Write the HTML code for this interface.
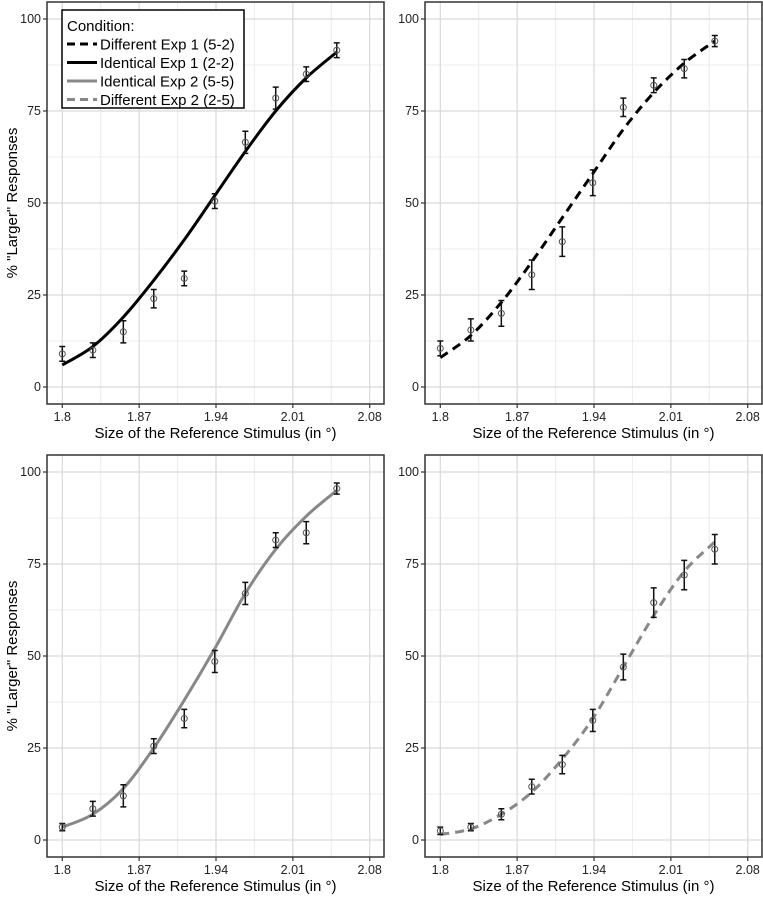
<!DOCTYPE html>
<html><head><meta charset="utf-8">
<style>
body{margin:0;background:#fff;}
svg{display:block;font-family:"Liberation Sans",Arial,sans-serif;}
</style></head>
<body>
<svg id="chart" width="763" height="897" viewBox="0 0 763 897"></svg>
<script>
const stimuli = [1.8,1.8278,1.8556,1.8833,1.9111,1.9389,1.9667,1.9944,2.0222,2.05];
const xTicks = [1.8,1.87,1.94,2.01,2.08];
const xTickLabels = ["1.8","1.87","1.94","2.01","2.08"];
const yTicks = [0,25,50,75,100];
const pointsTL = [9,10,15,24,29.5,50.5,66.5,78.5,85,91.5];
const errTL = [2,2,3,2.5,2,2,3,3,2,2];
const curveTL = [6,11,19,29,40,52,64,75,84,91];
const pointsTR = [10.5,15.5,20,30.5,39.5,55.5,76,82,86.5,94];
const errTR = [2,3,3.5,4,4,3.5,2.5,2,2.5,1.5];
const curveTR = [8,14,23,34,46,58,70,80,88,94];
const pointsBL = [3.5,8.5,12,25.5,33,48.5,67,81.5,83.5,95.5];
const errBL = [1,2,3,2,2.5,3,3,2,3,1.5];
const curveBL = [3.5,7,14,25,38,52,67,79,88,95];
const pointsBR = [2.5,3.5,7,14.5,20.5,32.5,47,64.5,72,79];
const errBR = [1,1,1.5,2,2.5,3,3.5,4,4,4];
const curveBR = [1.5,3,7,13,22,33,47,61,73,81];

const NS="http://www.w3.org/2000/svg";
const svg=document.getElementById('chart');
function mk(tag,attrs,parent){const e=document.createElementNS(NS,tag);for(const k in attrs)e.setAttribute(k,attrs[k]);(parent||svg).appendChild(e);return e;}

const panels=[
 {name:'top-left',L:47,T:2,pts:pointsTL,err:errTL,cur:curveTL,color:'#000',dash:null,ylab:true},
 {name:'top-right',L:425,T:2,pts:pointsTR,err:errTR,cur:curveTR,color:'#000',dash:'9,6',ylab:false},
 {name:'bottom-left',L:47,T:455,pts:pointsBL,err:errBL,cur:curveBL,color:'#888',dash:null,ylab:true},
 {name:'bottom-right',L:425,T:455,pts:pointsBR,err:errBR,cur:curveBR,color:'#888',dash:'9,6',ylab:false}
];
const W=337,H=402;
panels.forEach(p=>{
  const g=mk('g',{});
  
  
  const x=v=>p.L+15.3+(v-1.8)/0.28*(W-15.3-14.3);
  const y=v=>p.T+17+(100-v)/100*368;
  for(let i=0;i<xTicks.length-1;i++){const m=(xTicks[i]+xTicks[i+1])/2;mk('line',{x1:x(m),x2:x(m),y1:p.T,y2:p.T+H,stroke:'#ececec','stroke-width':1},g);}
  for(let i=0;i<yTicks.length-1;i++){const m=(yTicks[i]+yTicks[i+1])/2;mk('line',{x1:p.L,x2:p.L+W,y1:y(m),y2:y(m),stroke:'#ececec','stroke-width':1},g);}
  xTicks.forEach((t,i)=>{
    mk('line',{x1:x(t),x2:x(t),y1:p.T,y2:p.T+H,stroke:'#d9d9d9','stroke-width':1.2},g);
    mk('line',{x1:x(t),x2:x(t),y1:p.T+H,y2:p.T+H+4,stroke:'#333','stroke-width':1.2},g);
    const tl=mk('text',{x:x(t),y:p.T+H+17,'text-anchor':'middle','font-size':12.5,fill:'#222'},g);
    tl.textContent=xTickLabels[i];
    
    
  });
  yTicks.forEach(t=>{
    mk('line',{x1:p.L,x2:p.L+W,y1:y(t),y2:y(t),stroke:'#d9d9d9','stroke-width':1.2},g);
    mk('line',{x1:p.L-4,x2:p.L,y1:y(t),y2:y(t),stroke:'#333','stroke-width':1.2},g);
    const tl=mk('text',{x:p.L-6,y:y(t)+4,'text-anchor':'end','font-size':12.5,fill:'#222'},g);
    tl.textContent=String(t);
    
    
  });
  const P=stimuli.map((s,i)=>[x(s),y(p.cur[i])]);
  let d='M'+P[0][0]+','+P[0][1];
  for(let i=0;i<P.length-1;i++){const p0=P[Math.max(0,i-1)],p1=P[i],p2=P[i+1],p3=P[Math.min(P.length-1,i+2)];
    d+=' C'+(p1[0]+(p2[0]-p0[0])/6)+','+(p1[1]+(p2[1]-p0[1])/6)+' '+(p2[0]-(p3[0]-p1[0])/6)+','+(p2[1]-(p3[1]-p1[1])/6)+' '+p2[0]+','+p2[1];}
  const c=mk('path',{d:d,fill:'none',stroke:p.color,'stroke-width':3},g);
  if(p.dash)c.setAttribute('stroke-dasharray',p.dash);
  
  
  stimuli.forEach((s,i)=>{
    const px=x(s),v=p.pts[i],e=p.err[i];
    const eb=mk('path',{d:`M${px},${y(v+e)}V${y(v-e)}M${px-3},${y(v+e)}h6M${px-3},${y(v-e)}h6`,stroke:'#111','stroke-width':1.5,fill:'none'},g);
    
    
    const pt=mk('circle',{cx:px,cy:y(v),r:3,fill:'none',stroke:'#555','stroke-width':1},g);
    
    
  });
  mk('rect',{x:p.L,y:p.T,width:W,height:H,fill:'none',stroke:'#333','stroke-width':1.5},g);
  const xt=mk('text',{x:p.L+W/2,y:p.T+H+34,'text-anchor':'middle','font-size':15,fill:'#000'},g);
  xt.textContent='Size of the Reference Stimulus (in °)';
  
  
  if(p.ylab){
    const yt=mk('text',{x:0,y:0,transform:`translate(17,${p.T+H/2}) rotate(-90)`,'text-anchor':'middle','font-size':15,fill:'#000'},g);
    yt.textContent='% "Larger" Responses';
    
    
  }
});
const lg=mk('g',{});


mk('rect',{x:62,y:10,width:182,height:98,fill:'#fff',stroke:'#000','stroke-width':1.5},lg);
const lt=mk('text',{x:67,y:31,'font-size':15,fill:'#000'},lg);
lt.textContent='Condition:';
const entries=[['Different Exp 1 (5-2)','#000','8,5'],['Identical Exp 1 (2-2)','#000',null],['Identical Exp 2 (5-5)','#888',null],['Different Exp 2 (2-5)','#888','8,5']];
entries.forEach((en,i)=>{
  const yy=44+i*18.5;
  const ln=mk('line',{x1:67,x2:97,y1:yy,y2:yy,stroke:en[1],'stroke-width':3},lg);
  if(en[2])ln.setAttribute('stroke-dasharray',en[2]);
  const t=mk('text',{x:100,y:yy+5.5,'font-size':15,fill:'#000'},lg);
  t.textContent=en[0];
  
  
});
</script>
</body></html>
